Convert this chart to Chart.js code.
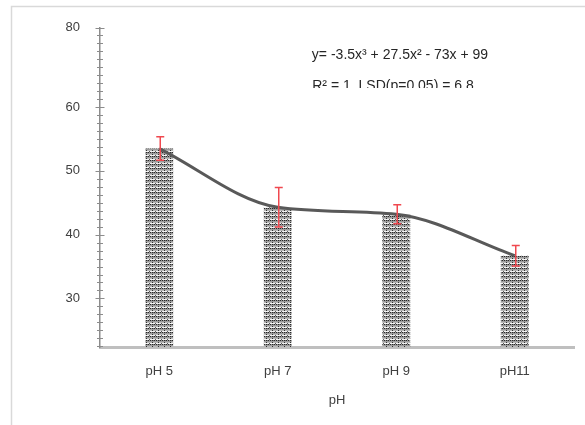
<!DOCTYPE html>
<html>
<head>
<meta charset="utf-8">
<script src="https://cdn.jsdelivr.net/npm/chart.js@4/dist/chart.umd.min.js"></script>
<style>
  html, body { margin: 0; padding: 0; background: #fff; }
  #wrap { width: 585px; height: 425px; position: relative; }
</style>
</head>
<body>
<div id="wrap"><canvas id="chart" width="585" height="425"></canvas></div>
<script>
const categories = ['pH 5', 'pH 7', 'pH 9', 'pH11']
const means = [53.5, 44.3, 43.2, 36.7]
const errors = [1.85, 3.1, 1.5, 1.6]
const trend = [53.5, 44.3, 43.2, 36.7]
const yTickValues = [30, 40, 50, 60, 72.44]
const yTickLabels = ['30', '40', '50', '60', '80']
const equationLines = ['y= -3.5x³ + 27.5x² - 73x + 99', 'R² = 1, LSD(p=0.05) = 6.8']

const FONT = "'Liberation Sans', Arial, sans-serif"

// dotted / striped fill like the original bars
function makePattern () {
  const c = document.createElement('canvas')
  c.width = 6
  c.height = 4
  const g = c.getContext('2d')
  const rows = [
    ['#2a2a2a', '#999', '#2a2a2a', '#777', '#2a2a2a', '#999'],
    ['#9c9c9c', '#9c9c9c', '#9c9c9c', '#9c9c9c', '#9c9c9c', '#9c9c9c'],
    ['#b8b8b8', '#b8b8b8', '#333', '#b8b8b8', '#b8b8b8', '#b8b8b8'],
    ['#f4f4f4', '#f4f4f4', '#f4f4f4', '#f4f4f4', '#f4f4f4', '#555']
  ]
  rows.forEach(function (row, r) {
    row.forEach(function (col, x) {
      g.fillStyle = col
      g.fillRect(x, r, 1, 1)
    })
  })
  return g.createPattern(c, 'repeat')
}

const framePlugin = {
  id: 'frame',
  beforeDraw (chart) {
    const ctx = chart.ctx
    ctx.save()
    ctx.strokeStyle = '#d9d9d9'
    ctx.lineWidth = 1.5
    ctx.beginPath()
    ctx.moveTo(585, 6.5)
    ctx.lineTo(11.5, 6.5)
    ctx.lineTo(11.5, 425)
    ctx.stroke()
    ctx.restore()
  }
}

const errorBarPlugin = {
  id: 'errorBars',
  afterDatasetsDraw (chart) {
    const ctx = chart.ctx
    const y = chart.scales.y
    const meta = chart.getDatasetMeta(1)
    ctx.save()
    ctx.strokeStyle = '#f0484f'
    ctx.lineWidth = 1.5
    meta.data.forEach(function (bar, i) {
      const x = bar.x + 1
      const top = y.getPixelForValue(means[i] + errors[i])
      const bot = y.getPixelForValue(means[i] - errors[i])
      ctx.beginPath()
      ctx.moveTo(x, top)
      ctx.lineTo(x, bot)
      ctx.moveTo(x - 4, top)
      ctx.lineTo(x + 4, top)
      ctx.moveTo(x - 4, bot)
      ctx.lineTo(x + 4, bot)
      ctx.stroke()
    })
    ctx.restore()
  }
}

const axisTickPlugin = {
  id: 'axisTicks',
  afterDraw (chart) {
    const ctx = chart.ctx
    const y = chart.scales.y
    const x0 = chart.chartArea.left
    ctx.save()
    ctx.strokeStyle = '#8c8c8c'
    ctx.lineWidth = 1
    y.ticks.forEach(function (t) {
      const py = Math.round(y.getPixelForValue(t.value)) + 0.5
      const major = yTickValues.indexOf(t.value) >= 0
      const half = major ? 4.5 : 3
      ctx.beginPath()
      ctx.moveTo(x0 - half, py)
      ctx.lineTo(x0 + half, py)
      ctx.stroke()
    })
    ctx.restore()
  }
}

const equationPlugin = {
  id: 'equation',
  afterDraw (chart) {
    const ctx = chart.ctx
    ctx.save()
    ctx.fillStyle = '#262626'
    ctx.font = '14px ' + FONT
    ctx.textAlign = 'center'
    ctx.textBaseline = 'alphabetic'
    ctx.fillText(equationLines[0], 400, 59, 186)
    ctx.beginPath()
    ctx.rect(300, 70, 200, 18)
    ctx.clip()
    ctx.fillText(equationLines[1], 393, 90, 164)
    ctx.restore()
  }
}

const ctx = document.getElementById('chart').getContext('2d')
const chart = new Chart(ctx, {
  type: 'bar',
  data: {
    labels: categories,
    datasets: [
      {
        type: 'line',
        data: trend,
        borderColor: '#595959',
        borderWidth: 3,
        pointRadius: 0,
        cubicInterpolationMode: 'monotone',
        order: 0
      },
      {
        type: 'bar',
        data: means,
        backgroundColor: makePattern(),
        borderWidth: 0,
        barPercentage: 0.235,
        categoryPercentage: 1,
        order: 1
      }
    ]
  },
  options: {
    responsive: false,
    animation: false,
    layout: { padding: { top: 25, right: 11, bottom: 15, left: 0 } },
    plugins: {
      legend: { display: false },
      tooltip: { enabled: false }
    },
    scales: {
      x: {
        grid: { display: false, drawTicks: false },
        border: { display: true, color: '#bfbfbf', width: 3 },
        ticks: {
          color: '#404040',
          font: { family: FONT, size: 13 },
          padding: 17
        },
        title: {
          display: true,
          text: 'pH',
          color: '#404040',
          font: { family: FONT, size: 13 },
          padding: { top: 0, bottom: 2 }
        },
        afterFit (scale) { scale.height = 63 }
      },
      y: {
        min: 22.38,
        max: 72.44,
        grid: { display: false, drawTicks: false },
        border: { display: true, color: '#8c8c8c', width: 1.5 },
        afterBuildTicks (scale) {
          const ticks = []
          for (let v = 22.5; v < scale.max - 0.5; v += 1.25) ticks.push({ value: v })
          ticks.push({ value: scale.max })
          scale.ticks = ticks
        },
        ticks: {
          autoSkip: false,
          color: '#404040',
          font: { family: FONT, size: 13 },
          padding: 20,
          callback (value) {
            const i = yTickValues.indexOf(value)
            return i >= 0 ? yTickLabels[i] : ''
          }
        },
        afterFit (scale) { scale.width = 100 }
      }
    }
  },
  plugins: [framePlugin, errorBarPlugin, axisTickPlugin, equationPlugin]
})
</script>
</body>
</html>
